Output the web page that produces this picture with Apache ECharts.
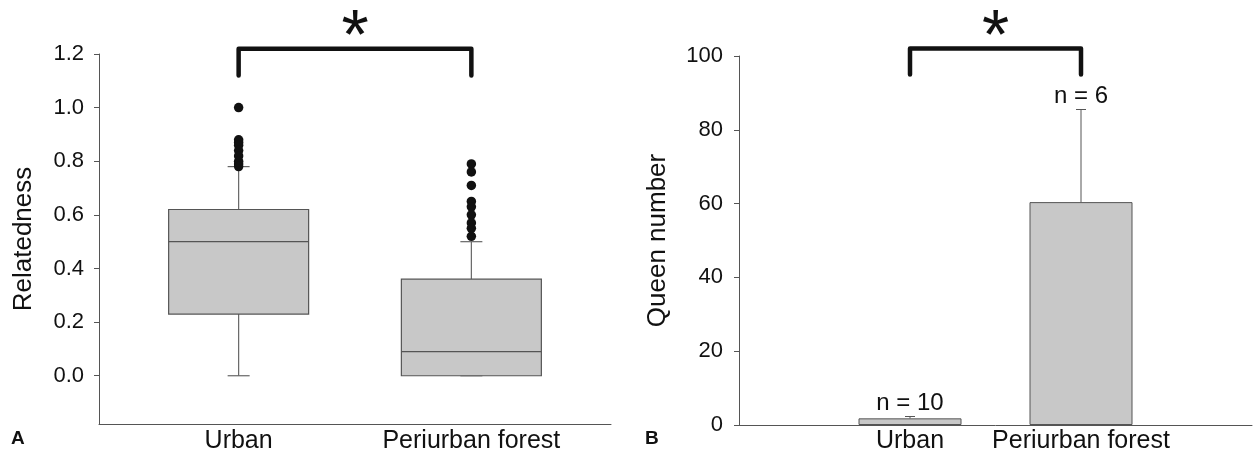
<!DOCTYPE html>
<html><head><meta charset="utf-8">
<script src="https://cdn.jsdelivr.net/npm/echarts@6/dist/echarts.min.js"></script>
<style>html,body{margin:0;padding:0;background:#fff}#c{width:1253px;height:452px}</style>
</head><body><div id="c"></div>
<script>
// ---- Panel A: relatedness box plots ----
const categoriesA = ['Urban', 'Periurban forest'];
// [lower whisker, Q1, median, Q3, upper whisker]
const boxUrban = [0.00, 0.23, 0.50, 0.62, 0.78];
const boxPeri = [0.00, 0.00, 0.09, 0.36, 0.50];
const outliersUrban = [1.00, 0.88, 0.87, 0.86, 0.84, 0.82, 0.80, 0.79, 0.78];
const outliersPeri = [0.79, 0.76, 0.71, 0.65, 0.63, 0.60, 0.57, 0.55, 0.52];
const yTicksA = [0.0, 0.2, 0.4, 0.6, 0.8, 1.0, 1.2];

// ---- Panel B: queen number bars ----
const categoriesB = ['Urban', 'Periurban forest'];
const queenMean = [1.8, 60.4];
const queenUpper = [2.3, 85.5];
const sampleN = [10, 6];
const yTicksB = [0, 20, 40, 60, 80, 100];

// significance brackets: [cat index 1, cat index 2, lower end, top]
const bracketA = [0, 1, 1.12, 1.22];
const bracketB = [0, 1, 95, 102];

const slotA = i => 3 + 5 * i;   // x positions on panel A value axis (0..11)
const slotB = i => 1 + i;       // x positions on panel B value axis (0..3)

const FONT = 'Liberation Sans, Arial, sans-serif';
const AXC = '#555';

const boxesData = [boxUrban, boxPeri].map((b, i) => [slotA(i)].concat(b));
const outlierData = [];
outliersUrban.forEach(v => outlierData.push([slotA(0), v]));
outliersPeri.forEach(v => outlierData.push([slotA(1), v]));

function bracketRender(params, api) {
  const x1 = api.value(0), x2 = api.value(1), yb = api.value(2), yt = api.value(3);
  const a = api.coord([x1, yb]), b = api.coord([x1, yt]), c = api.coord([x2, yt]), d = api.coord([x2, yb]);
  return {
    type: 'group',
    children: [
      { type: 'polyline', shape: { points: [a, b, c, d] },
        style: { stroke: '#111', lineWidth: 4.5, fill: null, lineJoin: 'round', lineCap: 'round' } },
      { type: 'text', x: (b[0] + c[0]) / 2, y: b[1] - 9,
        style: { text: '*', fontSize: 70, fontFamily: FONT, fill: '#111', align: 'center', verticalAlign: 'middle' } }
    ]
  };
}

const option = {
  backgroundColor: '#ffffff',
  animation: false,
  textStyle: { fontFamily: FONT },
  grid: [
    { left: 99, top: 54, width: 512, height: 370, containLabel: false, outerBoundsMode: 'none' },
    { left: 739, top: 56, width: 513, height: 369, containLabel: false, outerBoundsMode: 'none' }
  ],
  xAxis: [
    { gridIndex: 0, type: 'value', min: 0, max: 11, interval: 1,
      splitLine: { show: false }, axisTick: { show: false },
      axisLine: { show: true, onZero: false, lineStyle: { color: AXC, width: 1 } },
      axisLabel: { margin: 5, fontSize: 25, color: '#111', fontFamily: FONT,
        showMinLabel: true, showMaxLabel: true,
        formatter: v => { const i = (v - 3) / 5; return (Number.isInteger(i) && categoriesA[i]) ? categoriesA[i] : ''; } } },
    { gridIndex: 1, type: 'value', min: 0, max: 3, interval: 1,
      splitLine: { show: false }, axisTick: { show: false },
      axisLine: { show: true, onZero: false, lineStyle: { color: AXC, width: 1 } },
      axisLabel: { margin: 4, fontSize: 25, color: '#111', fontFamily: FONT,
        formatter: v => { const i = v - 1; return (Number.isInteger(i) && categoriesB[i]) ? categoriesB[i] : ''; } } }
  ],
  yAxis: [
    { gridIndex: 0, type: 'value', min: -0.18, max: 1.2,
      name: 'Relatedness', nameLocation: 'middle', nameGap: 62,
      nameTextStyle: { fontSize: 26, color: '#111', fontFamily: FONT },
      splitLine: { show: false },
      axisLine: { show: true, onZero: false, lineStyle: { color: AXC, width: 1 } },
      axisTick: { show: true, length: 5, customValues: yTicksA, lineStyle: { color: AXC } },
      axisLabel: { margin: 15, fontSize: 22, color: '#111', fontFamily: FONT,
        customValues: yTicksA, formatter: v => v.toFixed(1) } },
    { gridIndex: 1, type: 'value', min: 0, max: 100, interval: 20,
      name: 'Queen number', nameLocation: 'middle', nameGap: 68,
      nameTextStyle: { fontSize: 26, color: '#111', fontFamily: FONT },
      splitLine: { show: false },
      axisLine: { show: true, onZero: false, lineStyle: { color: AXC, width: 1 } },
      axisTick: { show: true, length: 5, lineStyle: { color: AXC } },
      axisLabel: { margin: 16, fontSize: 22, color: '#111', fontFamily: FONT,
        customValues: yTicksB } }
  ],
  graphic: [
    { type: 'text', left: 11, top: 429, style: { text: 'A', fontSize: 19, fontWeight: 'bold', fontFamily: FONT, fill: '#111' } },
    { type: 'text', left: 645, top: 429, style: { text: 'B', fontSize: 19, fontWeight: 'bold', fontFamily: FONT, fill: '#111' } }
  ],
  series: [
    { type: 'custom', name: 'box', xAxisIndex: 0, yAxisIndex: 0, data: boxesData, z: 2,
      renderItem: (params, api) => {
        const x = api.value(0);
        const lo = api.coord([x, api.value(1)]), q1 = api.coord([x, api.value(2)]),
              md = api.coord([x, api.value(3)]), q3 = api.coord([x, api.value(4)]),
              hi = api.coord([x, api.value(5)]);
        const cx = lo[0], half = 70, cap = 11;
        const wl = { stroke: '#666', lineWidth: 1.2 };
        return { type: 'group', children: [
          { type: 'line', shape: { x1: cx, y1: hi[1], x2: cx, y2: q3[1] }, style: wl },
          { type: 'line', shape: { x1: cx, y1: q1[1], x2: cx, y2: lo[1] }, style: wl },
          { type: 'line', shape: { x1: cx - cap, y1: hi[1], x2: cx + cap, y2: hi[1] }, style: wl },
          { type: 'line', shape: { x1: cx - cap, y1: lo[1], x2: cx + cap, y2: lo[1] }, style: wl },
          { type: 'rect', shape: { x: cx - half, y: q3[1], width: 2 * half, height: q1[1] - q3[1] },
            style: { fill: '#c8c8c8', stroke: '#555', lineWidth: 1.2 } },
          { type: 'line', shape: { x1: cx - half, y1: md[1], x2: cx + half, y2: md[1] },
            style: { stroke: '#555', lineWidth: 1.2 } }
        ] };
      } },
    { type: 'scatter', name: 'outliers', xAxisIndex: 0, yAxisIndex: 0, data: outlierData,
      symbol: 'circle', symbolSize: 9.5, itemStyle: { color: '#111', opacity: 1 }, z: 5, silent: true },
    { type: 'custom', name: 'bracketA', xAxisIndex: 0, yAxisIndex: 0, z: 6,
      data: [[slotA(bracketA[0]), slotA(bracketA[1]), bracketA[2], bracketA[3]]], renderItem: bracketRender },
    { type: 'bar', name: 'queens', xAxisIndex: 1, yAxisIndex: 1, barWidth: 103,
      data: queenMean.map((v, i) => [slotB(i), v]),
      itemStyle: { color: '#c8c8c8', borderColor: '#555', borderWidth: 1 } },
    { type: 'custom', name: 'err', xAxisIndex: 1, yAxisIndex: 1, z: 4,
      data: queenMean.map((v, i) => [slotB(i), v, queenUpper[i], sampleN[i]]),
      renderItem: (params, api) => {
        const x = api.value(0);
        const m = api.coord([x, api.value(1)]), u = api.coord([x, api.value(2)]);
        const cap = 5;
        const st = { stroke: '#555', lineWidth: 1 };
        return { type: 'group', children: [
          { type: 'line', shape: { x1: m[0], y1: m[1], x2: u[0], y2: u[1] }, style: st },
          { type: 'line', shape: { x1: u[0] - cap, y1: u[1], x2: u[0] + cap, y2: u[1] }, style: st },
          { type: 'text', x: u[0], y: u[1] - 13,
            style: { text: 'n = ' + api.value(3), fontSize: 24, fontFamily: FONT, fill: '#111', align: 'center', verticalAlign: 'middle' } }
        ] };
      } },
    { type: 'custom', name: 'bracketB', xAxisIndex: 1, yAxisIndex: 1, z: 6,
      data: [[slotB(bracketB[0]), slotB(bracketB[1]), bracketB[2], bracketB[3]]], renderItem: bracketRender }
  ]
};
echarts.init(document.getElementById('c'), null, { renderer: 'canvas' }).setOption(option);
</script>
</body></html>
